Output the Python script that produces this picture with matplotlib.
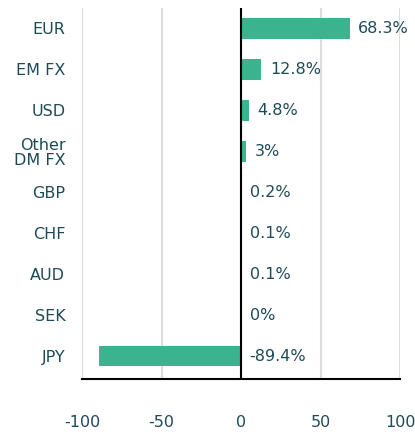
import matplotlib
matplotlib.use("Agg")
import matplotlib.pyplot as plt

categories = ["EUR", "EM FX", "USD", "Other\nDM FX", "GBP", "CHF", "AUD", "SEK", "JPY"]
values = [68.3, 12.8, 4.8, 3, 0.2, 0.1, 0.1, 0, -89.4]
labels = ["68.3%", "12.8%", "4.8%", "3%", "0.2%", "0.1%", "0.1%", "0%", "-89.4%"]
xticks = [-100, -50, 0, 50, 100]

text_color = "#1d4a57"
bar_color = "#3ab38e"

fig = plt.figure(figsize=(4.15, 4.34), dpi=100)
ax = fig.add_axes([82/415, 1 - 379/434, (400-82)/415, (379-8)/434])

y = list(range(len(categories)))
ax.barh(y, values, height=0.49, color=bar_color, zorder=3)
for yi, v, lab in zip(y, values, labels):
    xpos = max(v, 0) + 5.5
    ax.text(xpos, yi, lab, va="center", ha="left", fontsize=11.5, color=text_color, zorder=4)

ax.set_xlim(-100, 100)
ax.set_ylim(8.55, -0.5)
ax.set_xticks(xticks)
ax.set_xticklabels([str(t) for t in xticks])
ax.set_yticks(y)
ax.set_yticklabels(categories, linespacing=1.0)
ax.tick_params(axis="x", length=0, pad=26, labelsize=11.5, labelcolor=text_color)
ax.tick_params(axis="y", length=0, pad=12, labelsize=11.5, labelcolor=text_color)
ax.grid(axis="x", color="#dddddd", linewidth=1.5, zorder=0)
ax.grid(axis="y", visible=False)
for s in ["top", "right", "left"]:
    ax.spines[s].set_visible(False)
ax.spines["bottom"].set_color("black")
ax.spines["bottom"].set_linewidth(1.5)
ax.axvline(0, color="black", linewidth=1.5, zorder=5)

fig.savefig("out.png", dpi=100)
